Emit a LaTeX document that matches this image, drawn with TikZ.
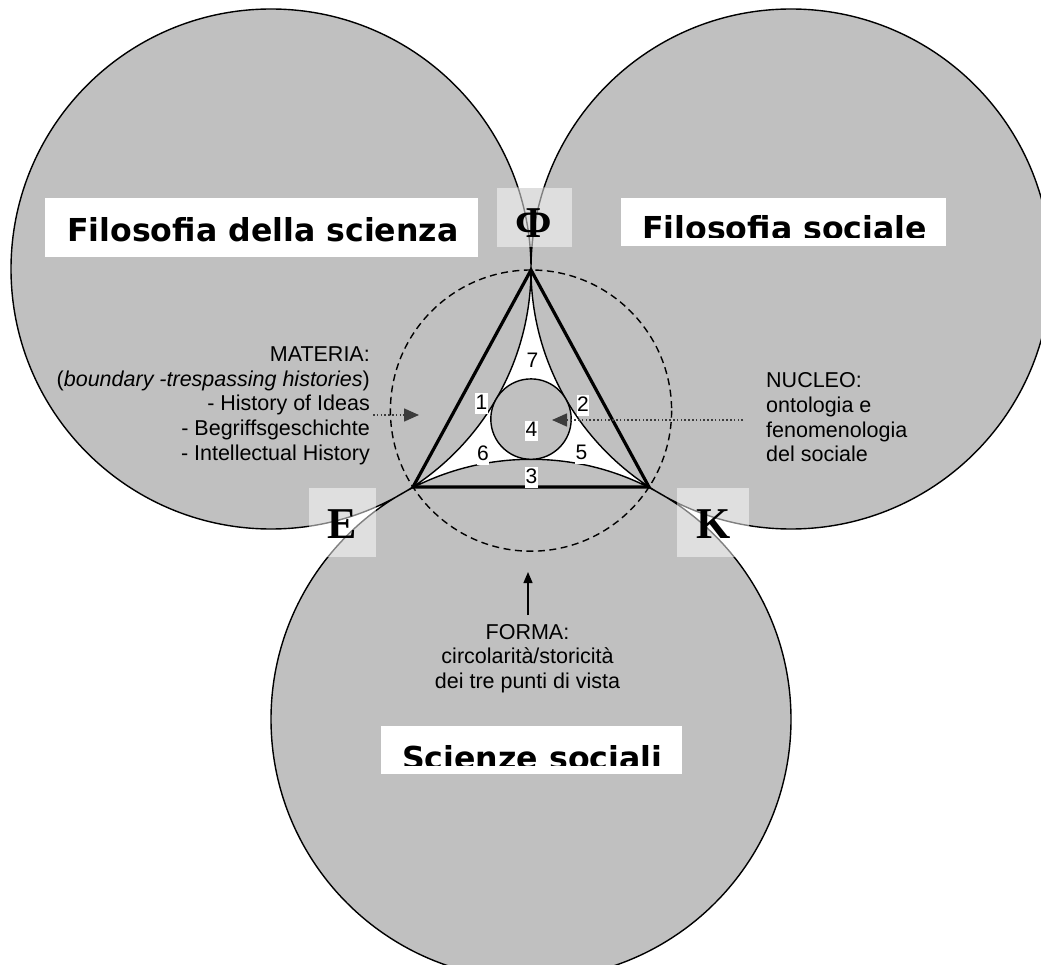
\documentclass[tikz,border=0pt]{standalone}
\usepackage{fontspec}
\setmainfont{Liberation Sans}
\newfontfamily\titlefont{DejaVu Sans}
\newfontfamily\letterfont{Liberation Serif}
\usetikzlibrary{arrows.meta}
\definecolor{diskgray}{HTML}{C0C0C0}
\definecolor{tagbox}{HTML}{DEDEDE}
\definecolor{tagline}{HTML}{808080}
\definecolor{pointer}{HTML}{3C3C3C}
\begin{document}
\begin{tikzpicture}[x=1pt,y=-1pt,
  disk/.style={fill=diskgray},
  outline/.style={draw=black,line width=1.4pt},
  numtag/.style={fill=white,inner xsep=0.6pt,inner ysep=0pt,text height=16pt,text depth=4.5pt,
    font=\fontsize{21}{24}\selectfont,anchor=base},
  note/.style={inner sep=0pt,font=\fontsize{21.5}{24.6}\selectfont},
  title/.style={inner sep=0pt,font=\titlefont\bfseries\fontsize{31.6}{36}\selectfont,anchor=base west},
  titlebox/.style={fill=white,draw=none,inner sep=0pt},
  tagshade/.style={fill=white,fill opacity=0.5,draw=none,inner sep=0pt},
  letter/.style={inner sep=0pt,font=\letterfont\bfseries\fontsize{44}{48}\selectfont,anchor=base},
  pointerline/.style={pointer,line width=1.6pt,dash pattern=on 1.6pt off 2.2pt,
    -{Triangle[length=15pt,width=13pt]}},
  formaline/.style={black,line width=1.3pt,-{Triangle[length=11pt,width=9pt]}},
]
\clip (0,0) rectangle (1041,965);
\fill[white] (0,0) rectangle (1041,965);

% the three large disks
\coordinate (c1) at (271,269);
\coordinate (c2) at (791,269);
\coordinate (c3) at (531,719.3);
\fill[disk] (c1) circle[radius=260] (c2) circle[radius=260] (c3) circle[radius=260];
\draw[outline] (c1) circle[radius=260] (c2) circle[radius=260] (c3) circle[radius=260];

% triangle of the three points of view
\coordinate (phi) at (531,270);
\coordinate (epi) at (413,487);
\coordinate (kap) at (649,487);
\draw[dashed,line width=1.4pt,dash pattern=on 7pt off 4.5pt] (531,410.6) circle[radius=140.6];
\draw[line width=3.2pt,line join=miter] (phi) -- (epi) -- (kap) -- cycle;

% central core
\filldraw[disk,outline] (531,419.1) circle[radius=40.2];

% numbered regions
\node[numtag] (n7) at (532.5,367) {7};
\node[numtag] (n1) at (481.5,409) {1};
\node[numtag] (n2) at (583,411) {2};
\node[numtag] (n4) at (531.5,436.5) {4};
\node[numtag] (n6) at (483,460) {6};
\node[numtag] (n5) at (581.5,459.5) {5};
\node[numtag] (n3) at (531.5,483) {3};

% MATERIA
\foreach \t [count=\i] in {MATERIA:,(\textit{boundary -trespassing histories}),- History of Ideas,- Begriffsgeschichte,- Intellectual History}
  \node[note,anchor=base east] (mat\i) at (370,{361.7+24.6*(\i-1)}) {\t};
\coordinate (matfrom) at (373,415);
\coordinate (matto) at (419,415);
\draw[pointerline] (matfrom) -- (matto);

% NUCLEO
\foreach \t [count=\i] in {NUCLEO:,ontologia e,fenomenologia,del sociale}
  \node[note,anchor=base west] (nuc\i) at (766,{388+24.6*(\i-1)}) {\t};
\coordinate (nucfrom) at (743,420);
\coordinate (nucto) at (552,420);
\draw[pointerline] (nucfrom) -- (nucto);

% FORMA
\foreach \t [count=\i] in {FORMA:,circolarità/storicità,dei tre punti di vista}
  \node[note,anchor=base] (for\i) at (527.5,{639+24.6*(\i-1)}) {\t};
\coordinate (forfrom) at (528,615);
\coordinate (forto) at (528,572);
\draw[formaline] (forfrom) -- (forto);

% titles of the three disks
\node[titlebox,minimum width=433,minimum height=59] (tb1) at (261.5,227.5) {};
\node[title] (t1) at (67,242) {Filosofia della scienza};
\node[titlebox,minimum width=325,minimum height=48] (tb2) at (783.5,222) {};
\begin{scope}
  \clip (621,198) rectangle (946,238);
  \node[title] (t2) at (642,240) {Filosofia sociale};
\end{scope}
\node[titlebox,minimum width=301,minimum height=48] (tb3) at (531.5,750) {};
\begin{scope}
  \clip (381,726) rectangle (682,765);
  \node[title] (t3) at (402,769.6) {Scienze sociali};
\end{scope}

% letter tags at the vertices
\node[fill=tagbox,inner sep=0pt,minimum width=75,minimum height=59] (phibox) at (534.5,217.5) {};
\begin{scope}
  \clip (497,188) rectangle (572,247);
  \draw[tagline,line width=1.4pt] (c1) circle[radius=260] (c2) circle[radius=260];
\end{scope}
\node[tagshade,minimum width=67,minimum height=69] (ebox) at (342.5,522.5) {};
\node[tagshade,minimum width=72,minimum height=69] (kbox) at (713,522.5) {};
\node[letter] (lphi) at (534,238) {Φ};
\node[letter] (le) at (342.5,538) {E};
\node[letter] (lk) at (713.5,538) {K};
\end{tikzpicture}
\end{document}
